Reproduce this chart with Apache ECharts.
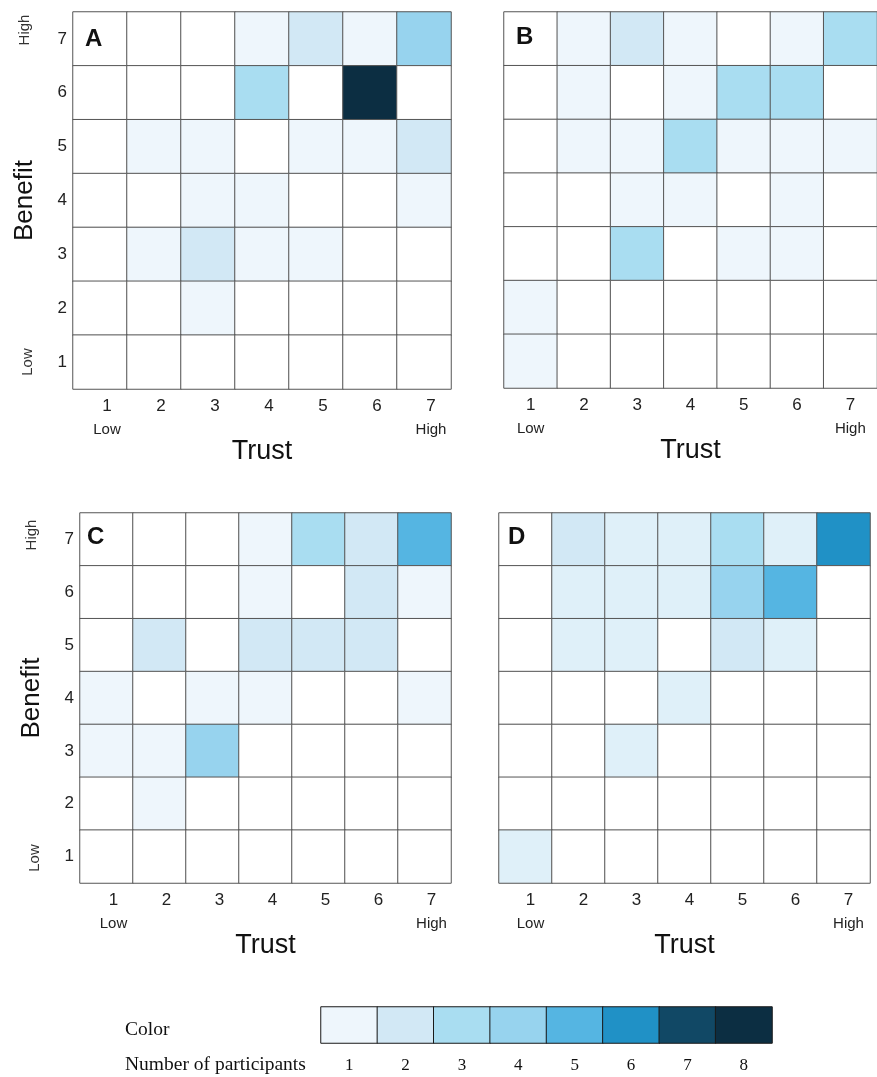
<!DOCTYPE html>
<html>
<head>
<meta charset="utf-8">
<script src="https://cdn.jsdelivr.net/npm/echarts@6/dist/echarts.min.js"></script>
<style>html,body{margin:0;padding:0;background:#fff}#c{width:877px;height:1077px}</style>
</head>
<body>
<div id="c"></div>
<script>
const trustLabels = ['1', '2', '3', '4', '5', '6', '7'];
const benefitLabels = ['1', '2', '3', '4', '5', '6', '7'];
const legendLabels = ['1', '2', '3', '4', '5', '6', '7', '8'];
const legendValues = [1, 2, 3, 4, 5, 6, 7, 8];
// rows: benefit 7 (top) -> 1 (bottom); columns: trust 1 -> 7
const panelA = [
  [0, 0, 0, 1, 2, 1, 4],
  [0, 0, 0, 3, 0, 8, 0],
  [0, 1, 1, 0, 1, 1, 2],
  [0, 0, 1, 1, 0, 0, 1],
  [0, 1, 2, 1, 1, 0, 0],
  [0, 0, 1, 0, 0, 0, 0],
  [0, 0, 0, 0, 0, 0, 0]
];
const panelB = [
  [0, 1, 2, 1, 0, 1, 3],
  [0, 1, 0, 1, 3, 3, 0],
  [0, 1, 1, 3, 1, 1, 1],
  [0, 0, 1, 1, 0, 1, 0],
  [0, 0, 3, 0, 1, 1, 0],
  [1, 0, 0, 0, 0, 0, 0],
  [1, 0, 0, 0, 0, 0, 0]
];
const panelC = [
  [0, 0, 0, 1, 3, 2, 5],
  [0, 0, 0, 1, 0, 2, 1],
  [0, 2, 0, 2, 2, 2, 0],
  [1, 0, 1, 1, 0, 0, 1],
  [1, 1, 4, 0, 0, 0, 0],
  [0, 1, 0, 0, 0, 0, 0],
  [0, 0, 0, 0, 0, 0, 0]
];
const panelD = [
  [0, 2, 1, 1, 3, 1, 6],
  [0, 1, 1, 1, 4, 5, 0],
  [0, 1, 1, 0, 2, 1, 0],
  [0, 0, 0, 1, 0, 0, 0],
  [0, 0, 1, 0, 0, 0, 0],
  [0, 0, 0, 0, 0, 0, 0],
  [1, 0, 0, 0, 0, 0, 0]
];

const colors = ['#ffffff', '#EEF6FC', '#D2E8F5', '#A9DDF1', '#97D3EE', '#55B5E2', '#2091C6', '#114865', '#0C2E42'];
const colorsD = ['#ffffff', '#DFF0F9', '#D2E8F5', '#A9DDF1', '#97D3EE', '#55B5E2', '#2091C6', '#114865', '#0C2E42'];

function toCells(m) {
  const out = [];
  m.forEach((row, r) => row.forEach((v, c) => out.push([c, 6 - r, v])));
  return out;
}

const grids = [
  {left: 73, top: 12, width: 378, height: 377},
  {left: 504, top: 12, width: 378, height: 376},
  {left: 80, top: 513, width: 371, height: 370},
  {left: 499, top: 513, width: 371, height: 370},
  {left: 321, top: 1007, width: 451, height: 36}
];
const labelPad = [14, 0, 14, 10];
const nameGaps = [38, 42, 42, 39];
const showY = [true, false, true, false];

const xAxes = [], yAxes = [], series = [];
for (let i = 0; i < 4; i++) {
  xAxes.push({
    type: 'category', gridIndex: i, data: trustLabels,
    axisLine: {show: false}, axisTick: {show: false}, splitLine: {show: false},
    axisLabel: {
      interval: 0, margin: 6, padding: [0, 0, 0, labelPad[i]],
      formatter: function (v) {
        if (v === '1') return '{n|1}\n{s|Low}';
        if (v === '7') return '{n|7}\n{s|High}';
        return '{n|' + v + '}';
      },
      rich: {
        n: {fontSize: 17, color: '#222', lineHeight: 23, fontFamily: 'Liberation Sans, Arial'},
        s: {fontSize: 15, color: '#222', lineHeight: 23, fontFamily: 'Liberation Sans, Arial'}
      }
    },
    name: 'Trust', nameLocation: 'middle', nameGap: nameGaps[i],
    nameTextStyle: {fontSize: 27, color: '#111', fontFamily: 'Liberation Sans, Arial'}
  });
  yAxes.push({
    type: 'category', gridIndex: i, data: benefitLabels,
    axisLine: {show: false}, axisTick: {show: false}, splitLine: {show: false},
    axisLabel: {show: showY[i], interval: 0, margin: 6, fontSize: 17, color: '#222', fontFamily: 'Liberation Sans, Arial'},
    name: showY[i] ? 'Benefit' : '', nameLocation: 'middle', nameGap: 35,
    nameTextStyle: {fontSize: 26, color: '#111', fontFamily: 'Liberation Sans, Arial'}
  });
}
xAxes.push({
  type: 'category', gridIndex: 4, data: legendLabels,
  axisLine: {show: false}, axisTick: {show: false}, splitLine: {show: false},
  axisLabel: {interval: 0, margin: 14, fontSize: 17, color: '#111', fontFamily: 'Liberation Serif, Times New Roman, serif'}
});
yAxes.push({
  type: 'category', gridIndex: 4, data: ['Color'],
  axisLine: {show: false}, axisTick: {show: false}, splitLine: {show: false},
  axisLabel: {show: false}
});

[panelA, panelB, panelC, panelD].forEach((p, i) => {
  series.push({
    type: 'heatmap', xAxisIndex: i, yAxisIndex: i, data: toCells(p),
    itemStyle: {borderColor: '#555', borderWidth: 1},
    emphasis: {disabled: true}
  });
});
series.push({
  type: 'heatmap', xAxisIndex: 4, yAxisIndex: 4,
  data: legendValues.map((v, i) => [i, 0, v]),
  itemStyle: {borderColor: '#1a1a1a', borderWidth: 1},
  emphasis: {disabled: true}
});

function pieces(cols) {
  return cols.map((c, v) => ({value: v, color: c}));
}

const letterStyle = {fontSize: 24, fontWeight: 'bold', fill: '#111', fontFamily: 'Liberation Sans, Arial'};
const sideStyle = {fontSize: 15, fill: '#333', fontFamily: 'Liberation Sans, Arial', textAlign: 'center', textVerticalAlign: 'middle'};
const serif = 'Liberation Serif, Times New Roman, serif';

const option = {
  animation: false,
  grid: grids,
  xAxis: xAxes,
  yAxis: yAxes,
  visualMap: [
    {type: 'piecewise', show: false, seriesIndex: [0, 1, 2, 4], pieces: pieces(colors)},
    {type: 'piecewise', show: false, seriesIndex: [3], pieces: pieces(colorsD)}
  ],
  series: series,
  graphic: [
    {type: 'text', x: 85, y: 39, z: 100, style: Object.assign({text: 'A', textVerticalAlign: 'middle'}, letterStyle)},
    {type: 'text', x: 516, y: 37, z: 100, style: Object.assign({text: 'B', textVerticalAlign: 'middle'}, letterStyle)},
    {type: 'text', x: 87, y: 537, z: 100, style: Object.assign({text: 'C', textVerticalAlign: 'middle'}, letterStyle)},
    {type: 'text', x: 508, y: 537, z: 100, style: Object.assign({text: 'D', textVerticalAlign: 'middle'}, letterStyle)},
    {type: 'text', x: 25, y: 30, rotation: Math.PI / 2, style: Object.assign({text: 'High'}, sideStyle)},
    {type: 'text', x: 28, y: 362, rotation: Math.PI / 2, style: Object.assign({text: 'Low'}, sideStyle)},
    {type: 'text', x: 32, y: 535, rotation: Math.PI / 2, style: Object.assign({text: 'High'}, sideStyle)},
    {type: 'text', x: 35, y: 858, rotation: Math.PI / 2, style: Object.assign({text: 'Low'}, sideStyle)},
    {type: 'text', x: 125, y: 1030, style: {text: 'Color', fontSize: 19.5, fill: '#111', fontFamily: serif, textVerticalAlign: 'middle'}},
    {type: 'text', x: 125, y: 1065, style: {text: 'Number of participants', fontSize: 19.5, fill: '#111', fontFamily: serif, textVerticalAlign: 'middle'}}
  ]
};

const chart = echarts.init(document.getElementById('c'), null, {renderer: 'canvas'});
chart.setOption(option);
</script>
</body>
</html>
